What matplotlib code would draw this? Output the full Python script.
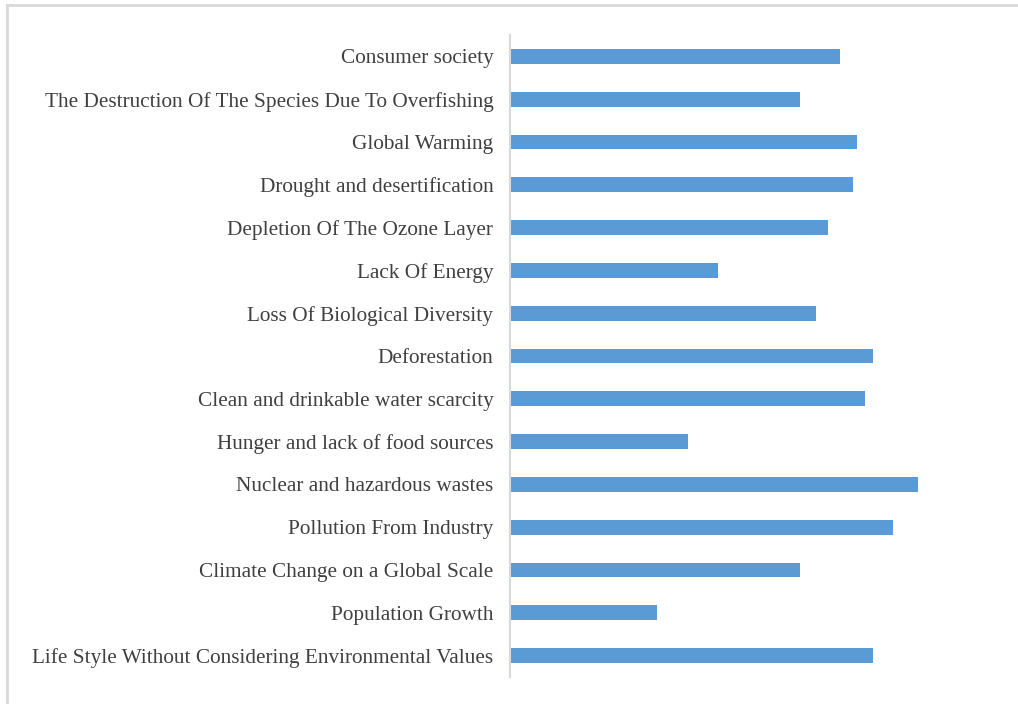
import numpy as np
import matplotlib
matplotlib.use('Agg')
import matplotlib.pyplot as plt
from matplotlib.lines import Line2D

# categories, bottom to top
categories = [
    'Life Style Without Considering Environmental Values',
    'Population Growth',
    'Climate Change on a Global Scale',
    'Pollution From Industry',
    'Nuclear and hazardous wastes',
    'Hunger and lack of food sources',
    'Clean and drinkable water scarcity',
    'Deforestation',
    'Loss Of Biological Diversity',
    'Lack Of Energy',
    'Depletion Of The Ozone Layer',
    'Drought and desertification',
    'Global Warming',
    'The Destruction Of The Species Due To Overfishing',
    'Consumer society',
]
# values (no scale shown)
values = [363, 147, 290, 383, 408, 178, 355, 363, 306, 208, 318, 343, 347, 290, 330]

plt.rcParams['font.family'] = ['Liberation Serif', 'DejaVu Serif']

fig = plt.figure(figsize=(10.18, 7.04), dpi=100)
ax = fig.add_axes([510 / 1018, 1 - 677 / 704, 490 / 1018, 642 / 704])

y = np.arange(len(categories))
ax.barh(y, values, height=0.35, color='#5b9bd5', left=0)

ax.set_yticks(y)
ax.set_yticklabels(categories, fontsize=15.3, color='#404040')
ax.tick_params(axis='y', length=0, pad=12)
ax.set_xticks([])
ax.set_ylim(-0.5, len(categories) - 0.5)
ax.set_xlim(0, 490)

for s in ['top', 'right', 'bottom']:
    ax.spines[s].set_visible(False)
ax.spines['left'].set_color('#d9d9d9')
ax.spines['left'].set_linewidth(1.5)

# light frame on top and left edge of the picture
fig.add_artist(Line2D([7 / 1018, 1], [1 - 5 / 704, 1 - 5 / 704], color='#d9d9d9', lw=2))
fig.add_artist(Line2D([7 / 1018, 7 / 1018], [0, 1 - 5 / 704], color='#d9d9d9', lw=2))

fig.savefig('out.png', dpi=100)
